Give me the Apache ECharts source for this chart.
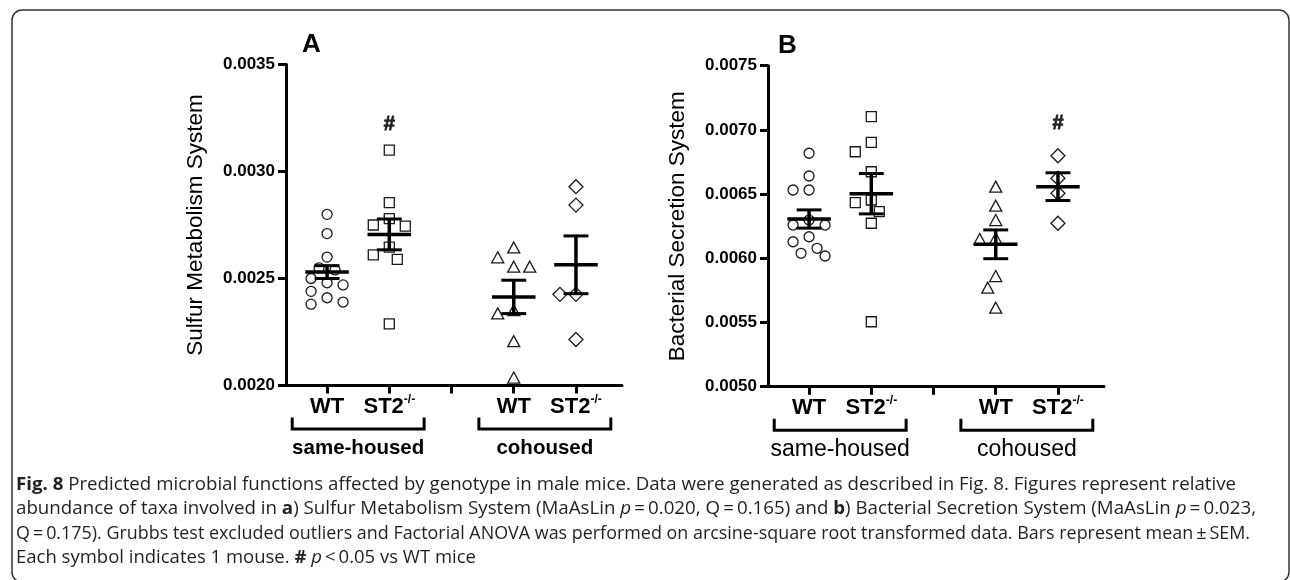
<!DOCTYPE html>
<html><head><meta charset="utf-8">
<script src="https://cdn.jsdelivr.net/npm/echarts@6/dist/echarts.min.js"></script>
<style>html,body{margin:0;padding:0;background:#fff}#c{width:1290px;height:580px}</style>
</head><body><div id="c"></div>
<script>
// ---------- data ----------
const genotypes = ['WT', 'ST2'];
const genotypeSup = ['', '-/-'];
const housings = ['same-housed', 'cohoused'];
const panelLetters = ['A', 'B'];
const yTitles = ['Sulfur Metabolism System', 'Bacterial Secretion System'];
const yTicksA = [0.0020, 0.0025, 0.0030, 0.0035];
const yTicksB = [0.0050, 0.0055, 0.0060, 0.0065, 0.0070, 0.0075];

// Panel A: Sulfur Metabolism System
const A_WT_SH  = [0.00280, 0.00271, 0.00260, 0.00255, 0.00254, 0.00250, 0.00248, 0.00247, 0.00244, 0.00241, 0.00239, 0.00238];
const A_ST2_SH = [0.00310, 0.002855, 0.00278, 0.002745, 0.00275, 0.002647, 0.00261, 0.002589, 0.002288];
const A_WT_CO  = [0.002645, 0.002599, 0.002555, 0.002555, 0.002352, 0.002337, 0.002207, 0.002037];
const A_ST2_CO = [0.002929, 0.002843, 0.002426, 0.002426, 0.002215];
const A_means  = [0.00253, 0.002706, 0.002414, 0.002564];
const A_sems   = [0.00003, 0.000072, 0.000078, 0.000135];

// Panel B: Bacterial Secretion System
const B_WT_SH  = [0.006818, 0.006641, 0.006532, 0.006532, 0.006298, 0.006259, 0.006259, 0.006168, 0.006129, 0.006078, 0.006039, 0.006018];
const B_ST2_SH = [0.007103, 0.006903, 0.006830, 0.006674, 0.006454, 0.006433, 0.006363, 0.006273, 0.005506];
const B_WT_CO  = [0.006558, 0.006410, 0.006298, 0.006156, 0.006150, 0.005862, 0.005771, 0.005615];
const B_ST2_CO = [0.006799, 0.006623, 0.006506, 0.006273];
const B_means  = [0.006306, 0.006503, 0.006109, 0.006558];
const B_sems   = [0.000071, 0.000157, 0.000112, 0.000108];

// significance marks (# p<0.05 vs WT): [group index, y value of the mark]
const A_sigGroup = [1], A_sigY = [0.00322];
const B_sigGroup = [3], B_sigY = [0.00705];

// caption
const captionLines = [
  '{b|Fig. 8} Predicted microbial functions affected by genotype in male mice. Data were generated as described in Fig. 8. Figures represent relative',
  'abundance of taxa involved in {b|a}) Sulfur Metabolism System (MaAsLin {i|p}\u2009=\u20090.020, Q\u2009=\u20090.165) and {b|b}) Bacterial Secretion System (MaAsLin {i|p}\u2009=\u20090.023,',
  'Q\u2009=\u20090.175). Grubbs test excluded outliers and Factorial ANOVA was performed on arcsine-square root transformed data. Bars represent mean\u2009\u00b1\u2009SEM.',
  'Each symbol indicates 1 mouse. {b|#} {i|p}\u2009<\u20090.05 vs WT mice'
];
// right edge (px) of each caption line in the reference
const captionLineEnds = [1236, 1256, 1250, 476];

// ---------- layout / style ----------
const FONT = '"Liberation Sans", Arial, sans-serif';
const CAPFONT = '"Open Sans", sans-serif';
const INK = '#000';
const CAPINK = '#231f20';
const symbols = ['circle', 'rect', 'triangle', 'diamond'];
const symbolSizes = [10, 10, [12, 11], [14, 14]];
const groupPos = (h, g) => 1 + 3 * h + g;   // 1,2 | 4,5 ; 3 is the gap tick
const groupsPos = [groupPos(0,0), groupPos(0,1), groupPos(1,0), groupPos(1,1)];

const panels = [
  { groups: [A_WT_SH, A_ST2_SH, A_WT_CO, A_ST2_CO], means: A_means, sems: A_sems, ticks: yTicksA, sigG: A_sigGroup, sigY: A_sigY,
    grid: { left: 286, top: 64.5, width: 336, height: 321 } },
  { groups: [B_WT_SH, B_ST2_SH, B_WT_CO, B_ST2_CO], means: B_means, sems: B_sems, ticks: yTicksB, sigG: B_sigGroup, sigY: B_sigY,
    grid: { left: 768, top: 65.7, width: 336, height: 321 } }
];

const chart = echarts.init(document.getElementById('c'), null, { renderer: 'canvas' });

function xLabel(v) {
  const h = v > 3 ? 1 : 0;
  const g = Math.round(v - 1 - 3 * h);
  if (g < 0 || g > 1) return '';
  return genotypeSup[g] ? '{b|' + genotypes[g] + '}{s|' + genotypeSup[g] + '}' : '{b|' + genotypes[g] + '}';
}

const xAxes = panels.map((p, i) => ({
  type: 'value', gridIndex: i, min: 0.34, max: 5.74,
  axisLine: { show: true, onZero: false, lineStyle: { color: INK, width: 3 } },
  axisTick: { show: true, customValues: [1, 2, 3, 4, 5], length: 8, lineStyle: { color: INK, width: 3 } },
  axisLabel: { show: true, customValues: groupsPos, margin: 8, formatter: xLabel,
    rich: {
      b: { fontSize: 22, fontWeight: 'bold', fontFamily: FONT, color: INK, lineHeight: 26 },
      s: { fontSize: 12, fontWeight: 'bold', fontFamily: FONT, color: INK, lineHeight: 12, verticalAlign: 'top' }
    } },
  splitLine: { show: false }
}));

const yAxes = panels.map((p, i) => ({
  type: 'value', gridIndex: i,
  min: p.ticks[0], max: p.ticks[p.ticks.length - 1],
  interval: +(p.ticks[1] - p.ticks[0]).toFixed(6),
  name: yTitles[i], nameLocation: 'middle', nameGap: 79,
  nameTextStyle: { fontSize: 22.5, fontFamily: FONT, color: INK },
  axisLine: { show: true, onZero: false, lineStyle: { color: INK, width: 3 } },
  axisTick: { show: true, length: 8, lineStyle: { color: INK, width: 3 } },
  axisLabel: { fontSize: 17, fontWeight: 'bold', fontFamily: FONT, color: INK, margin: 11,
    formatter: v => v.toFixed(4) },
  splitLine: { show: false }
}));

chart.setOption({
  animation: false,
  backgroundColor: '#fff',
  grid: panels.map(p => Object.assign({ containLabel: false }, p.grid)),
  xAxis: xAxes,
  yAxis: yAxes,
  series: []
});

// beeswarm-style horizontal spreading of overlapping symbols (limited width)
function swarm(values, center, gi) {
  const finder = { xAxisIndex: gi, yAxisIndex: gi };
  const order = values.map((v, i) => i).sort((a, b) => values[b] - values[a]);
  const placed = [];
  const out = new Array(values.length);
  const D = 13, step = 8, maxK = 4;
  for (const i of order) {
    const pc = chart.convertToPixel(finder, [center, values[i]]);
    let best = 0, bestD = -1;
    for (let k = 0; k <= maxK; k++) {
      const dx = k === 0 ? 0 : (k % 2 ? -1 : 1) * Math.ceil(k / 2) * step;
      const md = placed.length ? Math.min(...placed.map(p => Math.hypot(p[0] - dx, p[1] - pc[1]))) : Infinity;
      if (md >= D) { best = dx; bestD = md; break; }
      if (md > bestD) { bestD = md; best = dx; }
    }
    placed.push([best, pc[1]]);
    out[i] = [chart.convertFromPixel(finder, [pc[0] + best, pc[1]])[0], values[i]];
  }
  return out;
}

const series = [];
const graphics = [];

panels.forEach((p, gi) => {
  p.groups.forEach((vals, g) => {
    series.push({
      type: 'scatter', xAxisIndex: gi, yAxisIndex: gi, silent: true, z: 2,
      symbol: symbols[g], symbolSize: symbolSizes[g],
      itemStyle: { color: 'rgba(255,255,255,0)', borderColor: '#1a1a1a', borderWidth: 1.3, opacity: 1 },
      data: swarm(vals, groupsPos[g], gi)
    });
  });
  // mean +/- SEM
  series.push({
    type: 'custom', xAxisIndex: gi, yAxisIndex: gi, silent: true, z: 5,
    data: p.means.map((m, g) => [groupsPos[g], m, p.sems[g]]),
    renderItem: (params, api) => {
      const x = api.value(0), m = api.value(1), s = api.value(2);
      const c = api.coord([x, m]), hi = api.coord([x, m + s]), lo = api.coord([x, m - s]);
      const u = api.size([1, 0])[0];
      const hw = 0.35 * u, cw = 0.2 * u;
      const st = { stroke: INK, lineWidth: 3.5 };
      return { type: 'group', children: [
        { type: 'line', shape: { x1: c[0] - hw, y1: c[1], x2: c[0] + hw, y2: c[1] }, style: st },
        { type: 'line', shape: { x1: c[0], y1: hi[1], x2: c[0], y2: lo[1] }, style: st },
        { type: 'line', shape: { x1: c[0] - cw, y1: hi[1], x2: c[0] + cw, y2: hi[1] }, style: { stroke: INK, lineWidth: 3 } },
        { type: 'line', shape: { x1: c[0] - cw, y1: lo[1], x2: c[0] + cw, y2: lo[1] }, style: { stroke: INK, lineWidth: 3 } }
      ] };
    }
  });
  // significance marks
  series.push({
    type: 'scatter', xAxisIndex: gi, yAxisIndex: gi, silent: true, symbolSize: 0, z: 6,
    data: p.sigG.map((g, k) => [groupsPos[g], p.sigY[k]]),
    label: { show: true, position: 'inside', formatter: '#', fontSize: 20, fontWeight: 'bold', fontFamily: FONT, color: INK,
      textBorderColor: INK, textBorderWidth: 0.9 }
  });

  // brackets + housing labels under the axis
  const finder = { xAxisIndex: gi, yAxisIndex: gi };
  const yBase = chart.convertToPixel(finder, [1, p.ticks[0]])[1];
  housings.forEach((hName, h) => {
    const cx = (groupPos(h, 0) + groupPos(h, 1)) / 2;
    const xl = chart.convertToPixel(finder, [cx - 1.06, p.ticks[0]])[0];
    const xr = chart.convertToPixel(finder, [cx + 1.06, p.ticks[0]])[0];
    const xc = chart.convertToPixel(finder, [cx, p.ticks[0]])[0];
    graphics.push({ type: 'polyline', silent: true,
      shape: { points: [[xl, yBase + 32], [xl, yBase + 43.5], [xr, yBase + 43.5], [xr, yBase + 32]] },
      style: { stroke: INK, lineWidth: 3, fill: null } });
    graphics.push({ type: 'text', silent: true, x: xc, y: yBase + 63,
      style: { text: hName, fontSize: gi === 0 ? 20.5 : 23, fontWeight: gi === 0 ? 'bold' : 'normal', fontFamily: FONT,
        fill: INK, align: 'center', verticalAlign: 'middle' } });
  });
  // panel letter
  graphics.push({ type: 'text', silent: true, x: p.grid.left + (gi === 0 ? 16 : 10), y: p.grid.top - 20,
    style: { text: panelLetters[gi], fontSize: 26, fontWeight: 'bold', fontFamily: FONT, fill: INK, align: 'left', verticalAlign: 'middle' } });
});

// frame
graphics.push({ type: 'rect', silent: true, z: -1,
  shape: { x: 12, y: 10, width: 1277, height: 572, r: 10 },
  style: { fill: null, stroke: '#333', lineWidth: 1.5 } });

// caption (each line horizontally fitted to the reference line length)
const CAPSIZE = 18.3, CAPX = 16;
const capRich = {
  b: { fontWeight: 'bold', fontSize: CAPSIZE, fontFamily: CAPFONT, fill: CAPINK, color: CAPINK },
  i: { fontStyle: 'italic', fontSize: CAPSIZE, fontFamily: CAPFONT, fill: CAPINK, color: CAPINK }
};
const mctx = document.createElement('canvas').getContext('2d');
function measureRich(t) {
  let w = 0;
  const re = /\{(\w)\|([^}]*)\}/g;
  let last = 0, m;
  const seg = (txt, st) => {
    if (!txt) return;
    mctx.font = (st === 'i' ? 'italic ' : '') + (st === 'b' ? 'bold ' : '') + CAPSIZE + 'px ' + CAPFONT;
    w += mctx.measureText(txt).width;
  };
  while ((m = re.exec(t))) { seg(t.slice(last, m.index), ''); seg(m[2], m[1]); last = re.lastIndex; }
  seg(t.slice(last), '');
  return w;
}
captionLines.forEach((t, k) => {
  const nat = measureRich(t);
  const sx = nat > 0 ? (captionLineEnds[k] - CAPX) / nat : 1;
  graphics.push({ type: 'text', silent: true, x: CAPX, y: 485 + k * 24.2, scaleX: sx,
    style: { text: t, fontSize: CAPSIZE, fontFamily: CAPFONT, fill: CAPINK, align: 'left', verticalAlign: 'middle', rich: capRich } });
});

chart.setOption({ series: series, graphic: graphics });
</script>
</body></html>
